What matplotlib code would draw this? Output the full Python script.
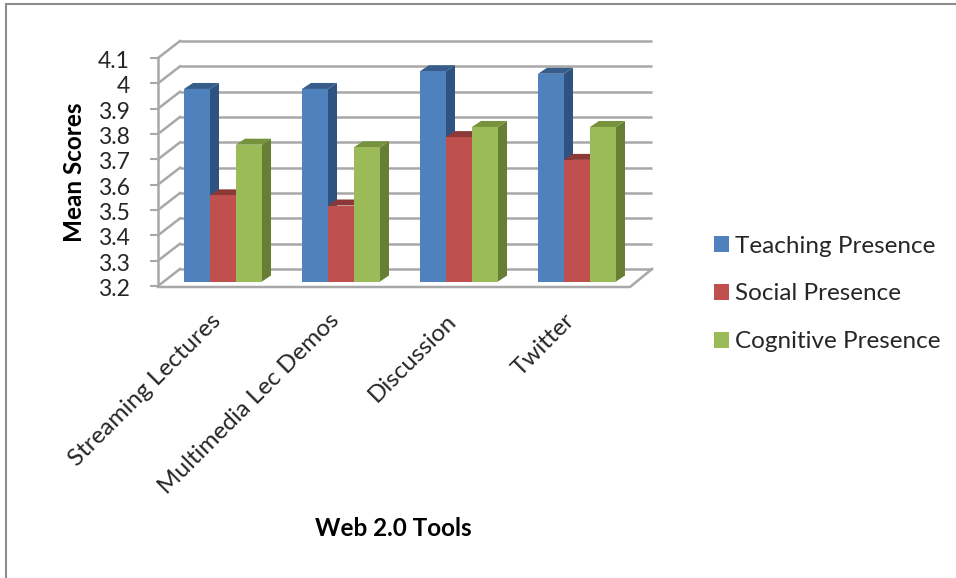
import matplotlib
matplotlib.use("Agg")
import matplotlib.pyplot as plt
from matplotlib.patches import Patch, Polygon, Rectangle
from matplotlib.transforms import ScaledTranslation

categories = ['Streaming Lectures', 'Multimedia Lec Demos', 'Discussion', 'Twitter']
teaching = [3.96, 3.96, 4.03, 4.02]
social = [3.54, 3.50, 3.77, 3.68]
cognitive = [3.74, 3.73, 3.81, 3.81]
y_ticks = [3.2, 3.3, 3.4, 3.5, 3.6, 3.7, 3.8, 3.9, 4.0, 4.1]
y_labels = ['3.2', '3.3', '3.4', '3.5', '3.6', '3.7', '3.8', '3.9', '4', '4.1']

W, H = 956, 578
GRID = '#a8a8a8'
series = [
    ('Teaching Presence', teaching, '#4f81bd', '#385d8a', '#2f5380'),
    ('Social Presence', social, '#c0504d', '#8c3836', '#7d3230'),
    ('Cognitive Presence', cognitive, '#9bbb59', '#76923c', '#667f35'),
]

plt.rcParams['font.family'] = ['Lato', 'DejaVu Sans']
fig = plt.figure(figsize=(W / 100, H / 100), dpi=100)

# axes covers the front plane of the fake 3D box
left, right, top, bottom = 158, 630, 58, 286
ax = fig.add_axes([left / W, 1 - bottom / H, (right - left) / W, (bottom - top) / H])
ax.set_xlim(0, 4)
ax.set_ylim(3.2, 4.1)
ax.patch.set_visible(False)
for s in ax.spines.values():
    s.set_visible(False)

# pixel offsets turned into data units
px_x = 4 / (right - left)
px_y = 0.9 / (bottom - top)
wall_dx, wall_dy = 22 * px_x, 17 * px_y
bar_dx, bar_dy = 6 * px_x, 4.5 * px_y
side_dx, side_dy = 9 * px_x, 6 * px_y
bar_w = 26 * px_x
gap = 20 * px_x

# back wall, side wall and floor
for v in y_ticks:
    ax.plot([wall_dx, 4 + wall_dx], [v + wall_dy, v + wall_dy], color=GRID, lw=1.8,
            clip_on=False, zorder=1, solid_capstyle='butt')
    ax.plot([0, wall_dx], [v, v + wall_dy], color=GRID, lw=1.8, clip_on=False, zorder=1)
ax.plot([0, 4, 4 + wall_dx], [3.2 - px_y, 3.2 - px_y, 3.2 + wall_dy], color=GRID, lw=1.8,
        clip_on=False, zorder=1)
ax.plot([0, 0], [3.2, 4.1], color=GRID, lw=1.8, clip_on=False, zorder=1)

# bars: side and top faces are polygons, front comes from ax.bar
for i, (name, values, front, top_col, side_col) in enumerate(series):
    xs = [c + gap + i * bar_w + bar_dx for c in range(len(categories))]
    for x, v in zip(xs, values):
        y0 = 3.2 + bar_dy
        y1 = v + bar_dy
        ax.add_patch(Polygon([(x + bar_w, y0), (x + bar_w + side_dx, y0 + side_dy),
                              (x + bar_w + side_dx, y1 + side_dy), (x + bar_w, y1)],
                             facecolor=side_col, edgecolor='none', clip_on=False, zorder=2 + i))
        ax.add_patch(Polygon([(x, y1), (x + side_dx, y1 + side_dy),
                              (x + bar_w + side_dx, y1 + side_dy), (x + bar_w, y1)],
                             facecolor=top_col, edgecolor='none', clip_on=False, zorder=2 + i))
    ax.bar(xs, [v - 3.2 for v in values], bottom=3.2 + bar_dy, width=bar_w, align='edge',
           color=front, clip_on=False, zorder=2.5 + i)

ax.set_yticks(y_ticks)
ax.set_yticklabels(y_labels, fontsize=16.5, color='#262626')
ax.tick_params(axis='y', length=5.8, width=1.5, color=GRID, pad=14.5)
ax.set_xticks([c + 0.5 for c in range(len(categories))])
ax.set_xticklabels(categories, fontsize=17.5, color='#262626', rotation=45, ha='right',
                   rotation_mode='anchor')
ax.tick_params(axis='x', length=0, pad=15)

# nudge the tick labels a few pixels to sit where the original has them
for lab in ax.get_xticklabels():
    lab.set_transform(lab.get_transform() + ScaledTranslation(-7 / 100, -3 / 100, fig.dpi_scale_trans))
for lab in ax.get_yticklabels():
    lab.set_transform(lab.get_transform() + ScaledTranslation(0, -1.5 / 100, fig.dpi_scale_trans))

fig.text(74 / W, 1 - 172 / H, 'Mean Scores', rotation=90, fontsize=17.5, fontweight='bold',
         ha='center', va='center', color='black')
fig.text(393 / W, 1 - 529 / H, 'Web 2.0 Tools', fontsize=17.5, fontweight='bold',
         ha='center', va='center', color='black')

handles = [Patch(facecolor=s[2], edgecolor='none', label=s[0]) for s in series]
fig.legend(handles=handles, loc='center left', bbox_to_anchor=(692 / W, 1 - 294 / H),
           frameon=False, fontsize=17.5, handlelength=0.62, handleheight=0.62, handletextpad=0.25,
           labelspacing=1.1, labelcolor='#262626')

# outer frame of the chart area
fig.add_artist(Rectangle((6 / W, -0.02), 1.1, 1 - 4 / H + 0.02, transform=fig.transFigure,
                         fill=False, edgecolor='#8c8c8c', lw=1.5))

fig.savefig('out.png', dpi=100)
